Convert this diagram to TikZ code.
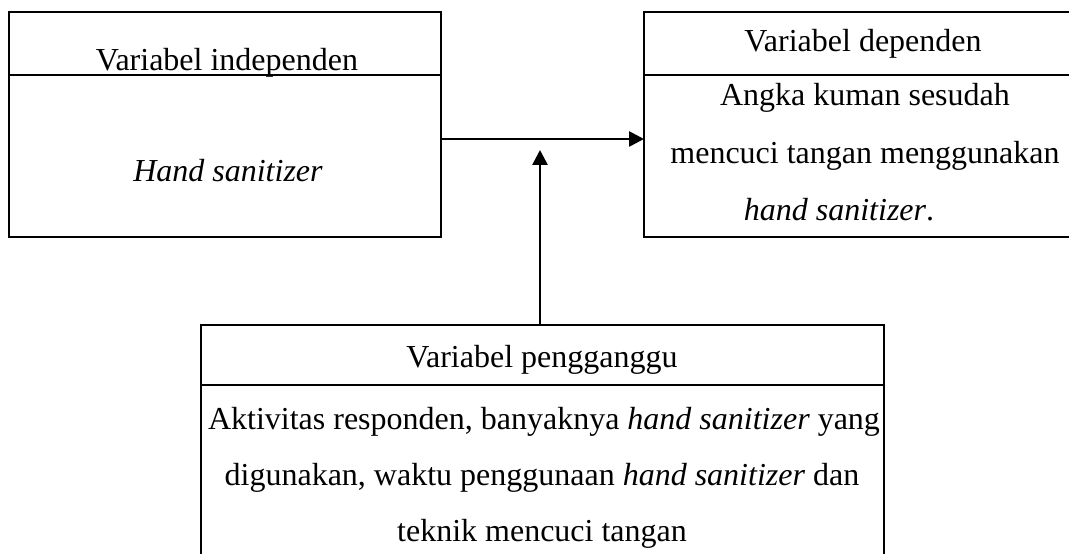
\documentclass[tikz,border=0pt]{standalone}
\usepackage{fontspec}
\setmainfont{Liberation Serif}
\usetikzlibrary{arrows.meta,positioning}

\def\u{0.375pt}

\begin{document}
\begin{tikzpicture}[->,>={Triangle[length=5.6pt,width=5.6pt]},x=\u,y=\u,
  line width=1pt,
  box/.style={draw,rectangle,inner sep=0pt,outer sep=0pt},
  txt/.style={anchor=base,inner sep=0pt,font=\fontsize{12}{14}\selectfont}]
  \clip (0,0) rectangle (1069,-554);
  % boxes
  \node[box,minimum width=432*\u,minimum height=63*\u] (indephead) at (225,-43.5) {};
  \node[box,minimum width=432*\u,minimum height=162*\u] (indepbody) [below=0pt of indephead] {};
  \node[box,minimum width=441*\u,minimum height=63*\u] (dephead) at (864.5,-43.5) {};
  \node[box,minimum width=441*\u,minimum height=162*\u] (depbody) [below=0pt of dephead] {};
  \node[box,minimum width=683*\u,minimum height=60*\u] (confhead) at (542.5,-355) {};
  \node[box,minimum width=683*\u,minimum height=200*\u] (confbody) [below=0pt of confhead] {};
  % texts
  \node[txt] (indeptitle) at (227,-71) {Variabel independen};
  \node[txt] (indeptext) at (228,-182) {\textit{Hand sanitizer}};
  \node[txt] (deptitle) at (863,-52) {Variabel dependen};
  \node[txt] (deptext1) at (865,-106) {Angka kuman sesudah};
  \node[txt] (deptext2) at (865,-164) {mencuci tangan menggunakan};
  \node[txt] (deptext3) at (839,-221) {\textit{hand sanitizer}.};
  \node[txt] (conftitle) at (542,-368) {Variabel pengganggu};
  \node[txt] (conftext1) at (544,-430) {Aktivitas responden, banyaknya \textit{hand sanitizer} yang};
  \node[txt] (conftext2) at (542,-486) {digunakan, waktu penggunaan \textit{hand sanitizer} dan};
  \node[txt] (conftext3) at (542,-542) {teknik mencuci tangan};
  % arrows
  \coordinate (meet) at (540,-150);
  \draw (indepbody.east |- 0,-139) -- (depbody.west |- 0,-139);
  \draw (confhead.north -| meet) -- (meet);
\end{tikzpicture}
\end{document}
